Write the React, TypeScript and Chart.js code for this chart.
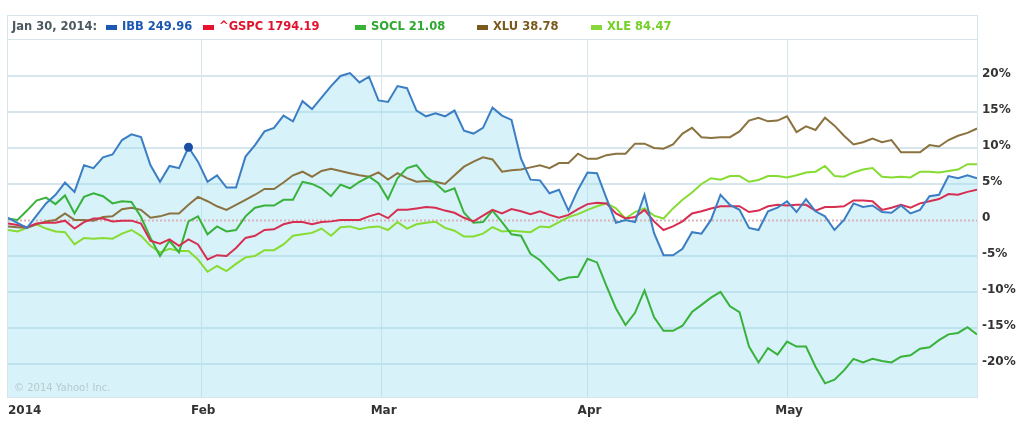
import React, { useEffect, useRef } from 'react';
import { Chart, registerables } from 'chart.js';

Chart.register(...registerables);

// ---- trading days (2014) ----
const janDays = [2, 3, 6, 7, 8, 9, 10, 13, 14, 15, 16, 17, 21, 22, 23, 24, 27, 28, 29, 30, 31];
const febDays = [3, 4, 5, 6, 7, 10, 11, 12, 13, 14, 18, 19, 20, 21, 24, 25, 26, 27, 28];
const marDays = [3, 4, 5, 6, 7, 10, 11, 12, 13, 14, 17, 18, 19, 20, 21, 24, 25, 26, 27, 28, 31];
const aprDays = [1, 2, 3, 4, 7, 8, 9, 10, 11, 14, 15, 16, 17, 21, 22, 23, 24, 25, 28, 29, 30];
const mayDays = [1, 2, 5, 6, 7, 8, 9, 12, 13, 14, 15, 16, 19, 20, 21, 22, 23, 27, 28, 29, 30];

const tradingDates: string[] = [
  ...janDays.map((d) => `Jan ${d}`),
  ...febDays.map((d) => `Feb ${d}`),
  ...marDays.map((d) => `Mar ${d}`),
  ...aprDays.map((d) => `Apr ${d}`),
  ...mayDays.map((d) => `May ${d}`),
];

// month boundaries on the trading-day axis (Feb 1 / Mar 1 fall on weekends)
const monthTickLabels = ['2014', 'Feb', 'Mar', 'Apr', 'May'];
const monthTickIndex = [0, 20.33, 39.33, 61, 82];

// y ticks (% change)
const yTickValues = [-20, -15, -10, -5, 0, 5, 10, 15, 20];

// ---- series: % change since start ----
const ibb = [
  0.3, -0.4, -1.1, 0.6, 2.3, 3.5, 5.2, 3.9, 7.6, 7.2,
  8.7, 9.1, 11.1, 11.9, 11.5, 7.6, 5.3, 7.5, 7.2, 10.1,
  8.1, 5.3, 6.2, 4.5, 4.5, 8.8, 10.4, 12.3, 12.8, 14.5,
  13.7, 16.5, 15.4, 17.0, 18.6, 20.0, 20.4, 19.1, 19.9, 16.6,
  16.4, 18.6, 18.3, 15.2, 14.4, 14.8, 14.4, 15.2, 12.4, 12.0,
  12.8, 15.6, 14.5, 13.9, 8.5, 5.6, 5.5, 3.7, 4.2, 1.3,
  4.2, 6.6, 6.5, 3.0, -0.4, 0.0, -0.3, 3.5, -1.8, -4.9,
  -4.9, -4.0, -1.7, -1.9, 0.0, 3.5, 2.1, 1.4, -1.1, -1.4,
  1.2, 1.7, 2.6, 1.1, 2.9, 1.2, 0.5, -1.4, 0.0, 2.3,
  1.8, 2.0, 1.1, 1.0, 2.0, 0.9, 1.4, 3.3, 3.5, 6.1,
  5.8, 6.2, 5.8,
];
const gspc = [
  -0.5, -0.7, -1.0, -0.5, -0.4, -0.4, -0.1, -1.2, -0.3, 0.2,
  0.2, -0.2, -0.1, -0.1, -0.5, -2.9, -3.3, -2.7, -3.6, -2.7,
  -3.4, -5.5, -4.9, -5.0, -3.9, -2.5, -2.2, -1.4, -1.3, -0.6,
  -0.3, -0.3, -0.6, -0.3, -0.2, 0.0, 0.0, 0.0, 0.5, 0.9,
  0.25, 1.4, 1.4, 1.6, 1.8, 1.7, 1.3, 1.0, 0.3, -0.2,
  0.6, 1.4, 0.9, 1.5, 1.2, 0.8, 1.2, 0.7, 0.3, 0.7,
  1.5, 2.2, 2.4, 2.3, 0.9, 0.2, 0.4, 1.4, -0.2, -1.4,
  -0.9, -0.2, 0.9, 1.2, 1.6, 1.9, 1.9, 1.9, 1.1, 1.3,
  1.9, 2.1, 2.0, 2.1, 2.1, 1.3, 1.8, 1.8, 1.9, 2.7,
  2.7, 2.6, 1.4, 1.7, 2.1, 1.7, 2.3, 2.6, 2.9, 3.6,
  3.5, 3.9, 4.2,
];
const socl = [
  0.2, 0.0, 1.3, 2.7, 3.1, 2.2, 3.4, 0.9, 3.2, 3.7,
  3.3, 2.3, 2.6, 2.5, 0.4, -2.5, -5.0, -2.9, -4.5, -0.2,
  0.5, -2.0, -0.9, -1.6, -1.4, 0.5, 1.7, 2.0, 2.0, 2.8,
  2.8, 5.3, 5.0, 4.4, 3.3, 4.9, 4.4, 5.3, 6.0, 5.1,
  2.9, 5.8, 7.2, 7.6, 6.0, 5.1, 3.9, 4.4, 1.0, -0.4,
  -0.3, 1.3, -0.3, -2.0, -2.2, -4.7, -5.6, -7.0, -8.4, -8.0,
  -7.9, -5.4, -5.9, -9.2, -12.3, -14.6, -12.9, -9.8, -13.5, -15.4,
  -15.4, -14.7, -12.8, -11.8, -10.8, -10.0, -12.0, -12.8, -17.6, -19.8,
  -17.8, -18.7, -16.9, -17.6, -17.6, -20.4, -22.7, -22.2, -20.9, -19.3,
  -19.8, -19.3, -19.6, -19.8, -19.0, -18.8, -17.9, -17.7, -16.7, -15.9,
  -15.7, -14.9, -15.9,
];
const xlu = [
  -0.9, -1.0, -1.1, -0.6, -0.2, 0.0, 0.9, 0.0, 0.0, -0.1,
  0.4, 0.5, 1.5, 1.7, 1.4, 0.3, 0.5, 0.9, 0.9, 2.1,
  3.2, 2.6, 1.9, 1.4, 2.1, 2.8, 3.5, 4.3, 4.3, 5.2,
  6.2, 6.7, 6.0, 6.8, 7.1, 6.8, 6.5, 6.2, 6.0, 6.6,
  5.6, 6.5, 5.8, 5.3, 5.4, 5.3, 5.0, 6.2, 7.4, 8.1,
  8.7, 8.4, 6.7, 6.9, 7.0, 7.3, 7.6, 7.2, 7.9, 7.9,
  9.2, 8.5, 8.5, 9.0, 9.2, 9.2, 10.6, 10.6, 10.0, 9.9,
  10.5, 12.0, 12.8, 11.5, 11.4, 11.5, 11.5, 12.3, 13.8, 14.2,
  13.7, 13.8, 14.4, 12.2, 13.0, 12.5, 14.2, 13.1, 11.7, 10.5,
  10.8, 11.3, 10.8, 11.1, 9.4, 9.4, 9.4, 10.4, 10.2, 11.1,
  11.7, 12.1, 12.7,
];
const xle = [
  -1.4, -1.6, -1.1, -0.6, -1.2, -1.6, -1.7, -3.4, -2.5, -2.6,
  -2.5, -2.6, -1.9, -1.4, -2.2, -3.6, -4.5, -4.0, -4.3, -4.3,
  -5.5, -7.2, -6.4, -7.1, -6.1, -5.2, -5.0, -4.2, -4.2, -3.4,
  -2.2, -2.0, -1.8, -1.2, -2.2, -1.0, -0.9, -1.3, -1.0, -0.9,
  -1.4, -0.3, -1.2, -0.6, -0.4, -0.25, -1.1, -1.5, -2.3, -2.3,
  -1.9, -1.0, -1.6, -1.5, -1.6, -1.7, -0.9, -1.0, -0.3, 0.4,
  0.8, 1.4, 1.9, 2.3, 1.6, 0.2, 1.1, 1.6, 0.6, 0.2,
  1.6, 2.8, 3.8, 5.0, 5.8, 5.6, 6.1, 6.1, 5.3, 5.55,
  6.1, 6.1, 5.9, 6.2, 6.6, 6.7, 7.5, 6.1, 6.0, 6.6,
  7.0, 7.2, 6.0, 5.9, 6.0, 5.9, 6.7, 6.7, 6.6, 6.8,
  7.0, 7.75, 7.75,
];

const seriesNames = ['IBB', '^GSPC', 'SOCL', 'XLU', 'XLE'];
const legendPrices = ['249.96', '1794.19', '21.08', '38.78', '84.47'];
const highlightIndex = 19; // Jan 30

// ---- styles ----
const lineColors = ['#3b7ec4', '#d62f52', '#38b23a', '#8a7340', '#86dc32'];
const legendTextColors = ['#1d58b3', '#e0122c', '#2fa82f', '#7a5a1c', '#74cf26'];
const legendSwatchColors = ['#1d58b3', '#e8122c', '#36b336', '#7a5a1c', '#86d838'];
const legendSlotX = [106, 203, 355, 477, 591];
const gridColor = '#d6e6ec';
const fillColor = 'rgba(160,225,240,0.42)';

const seriesValues = [ibb, gspc, socl, xlu, xle];

export default function App() {
  const ref = useRef<HTMLCanvasElement>(null);

  useEffect(() => {
    document.body.style.margin = '0';
    const canvas = ref.current!;

    const decorPlugin = {
      id: 'decor',
      beforeDraw(chart: any) {
        const { ctx } = chart;
        ctx.save();
        ctx.fillStyle = '#ffffff';
        ctx.fillRect(0, 0, chart.width, chart.height);
        ctx.restore();
      },
      beforeDatasetsDraw(chart: any) {
        const { ctx, chartArea } = chart;
        ctx.save();
        // copyright
        ctx.font = '10px "DejaVu Sans"';
        ctx.fillStyle = '#b6c9ce';
        ctx.textAlign = 'left';
        ctx.textBaseline = 'alphabetic';
        ctx.fillText('\u00A9 2014 Yahoo! Inc.', chartArea.left + 6, chartArea.bottom - 6);
        ctx.restore();
      },
      afterDraw(chart: any) {
        const { ctx, chartArea } = chart;
        const xs = chart.scales.x;
        ctx.save();
        // frames
        ctx.strokeStyle = gridColor;
        ctx.lineWidth = 1;
        ctx.strokeRect(chartArea.left - 0.5, chartArea.top - 0.5, chartArea.right - chartArea.left + 1, chartArea.bottom - chartArea.top + 1);
        ctx.strokeRect(chartArea.left - 0.5, 15.5, chartArea.right - chartArea.left + 1, chartArea.top - 16);

        // x labels
        ctx.font = 'bold 12px "DejaVu Sans"';
        ctx.fillStyle = '#333333';
        ctx.textBaseline = 'middle';
        monthTickLabels.forEach((lab, k) => {
          if (k === 0) {
            ctx.textAlign = 'left';
            ctx.fillText(lab, chartArea.left, 411);
          } else {
            ctx.textAlign = 'center';
            ctx.fillText(lab, xs.getPixelForValue(monthTickIndex[k]) + 2, 411);
          }
        });

        // legend
        const ly = 27;
        ctx.font = 'bold 11.5px "DejaVu Sans"';
        ctx.textAlign = 'left';
        ctx.fillStyle = '#4b585f';
        ctx.fillText(`${tradingDates[highlightIndex]}, 2014:`, 12, ly);
        seriesNames.forEach((name, k) => {
          const x = legendSlotX[k];
          ctx.fillStyle = legendSwatchColors[k];
          ctx.fillRect(x, ly - 2, 11, 5);
          ctx.fillStyle = legendTextColors[k];
          ctx.fillText(`${name} ${legendPrices[k]}`, x + 16, ly);
        });
        ctx.restore();
      },
    };

    // dotted zero reference line, drawn after the fill but under the lines
    const zeroLinePlugin = {
      id: 'zeroLine',
      beforeDatasetDraw(chart: any, args: any) {
        if (args.index !== seriesNames.length - 1) return;
        const { ctx, chartArea } = chart;
        const ys = chart.scales.y;
        const y0 = Math.round(ys.getPixelForValue(0)) + 0.5;
        ctx.save();
        ctx.strokeStyle = '#d9b3b9';
        ctx.lineWidth = 2;
        ctx.setLineDash([2, 2]);
        ctx.beginPath();
        ctx.moveTo(chartArea.left, y0);
        ctx.lineTo(chartArea.right, y0);
        ctx.stroke();
        ctx.restore();
      },
    };

    const datasets = seriesNames.map((name, k) => ({
      label: name,
      data: seriesValues[k].map((v, i) => ({ x: i, y: v })),
      borderColor: lineColors[k],
      backgroundColor: k === 0 ? fillColor : 'transparent',
      fill: k === 0 ? 'start' : false,
      borderWidth: 2,
      tension: 0,
      pointRadius: k === 0 ? (ctx: any) => (ctx.dataIndex === highlightIndex ? 4.5 : 0) : 0,
      pointBackgroundColor: '#1b4fa5',
      pointBorderWidth: 0,
      pointHoverRadius: 0,
    }));

    const chart = new Chart(canvas, {
      type: 'line',
      data: { labels: tradingDates, datasets: datasets as any },
      options: {
        animation: false,
        responsive: false,
        devicePixelRatio: 1,
        events: [],
        layout: { padding: { left: 8, top: 40, right: 0, bottom: 0 } },
        plugins: {
          legend: { display: false },
          tooltip: { enabled: false },
          filler: { drawTime: 'beforeDatasetsDraw' },
        } as any,
        scales: {
          x: {
            type: 'linear',
            min: 0,
            max: tradingDates.length - 1,
            afterBuildTicks: (s: any) => {
              s.ticks = monthTickIndex.slice(1).map((v) => ({ value: v }));
            },
            afterFit: (s: any) => {
              s.height = 30;
            },
            grid: { color: gridColor, drawTicks: false, lineWidth: 1 },
            border: { display: false },
            ticks: { display: false },
          },
          y: {
            position: 'right',
            min: -24.6,
            max: 25,
            afterBuildTicks: (s: any) => {
              s.ticks = yTickValues.map((v) => ({ value: v }));
            },
            afterFit: (s: any) => {
              s.width = 47;
            },
            grid: {
              color: (c: any) => (c.tick && c.tick.value === 0 ? 'rgba(0,0,0,0)' : gridColor),
              drawTicks: false,
              lineWidth: 2,
            },
            border: { display: false },
            ticks: {
              padding: 5,
              labelOffset: -2,
              color: '#333333',
              font: { family: '"DejaVu Sans"', size: 12, weight: 'bold' },
              callback: (v: any) => (v === 0 ? '0' : `${v}%`),
            },
          },
        },
      },
      plugins: [decorPlugin, zeroLinePlugin],
    });

    return () => chart.destroy();
  }, []);

  return (
    <div style={{ width: 1024, height: 427, position: 'relative' }}>
      <canvas ref={ref} width={1024} height={427} style={{ display: 'block' }} />
    </div>
  );
}
